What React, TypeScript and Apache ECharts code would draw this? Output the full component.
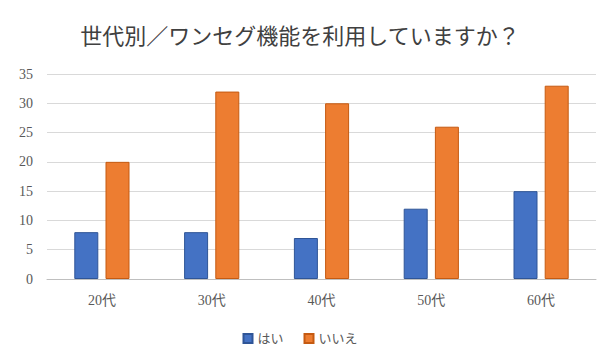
import React, { useEffect, useRef } from "react";
import * as echarts from "echarts";

const categories = ["20代", "30代", "40代", "50代", "60代"];
const seriesNames = ["はい", "いいえ"];
const yesValues = [8, 8, 7, 12, 15];
const noValues = [20, 32, 30, 26, 33];
const titleText = "世代別／ワンセグ機能を利用していますか？";

const FONT = "'Liberation Serif', 'Noto Sans CJK JP', serif";

export default function App() {
  const ref = useRef<HTMLDivElement>(null);
  useEffect(() => {
    if (!ref.current) return;
    const chart = echarts.init(ref.current, null, { renderer: "svg" });
    chart.setOption({
      animation: false,
      backgroundColor: "#ffffff",
      textStyle: { fontFamily: FONT },
      title: {
        text: titleText,
        left: "center",
        top: 20,
        textStyle: {
          fontFamily: FONT,
          fontSize: 22,
          fontWeight: "normal",
          color: "#404040",
        },
      },
      legend: {
        data: seriesNames,
        bottom: 12,
        left: "center",
        itemWidth: 9,
        itemHeight: 9,
        itemGap: 20,
        icon: "rect",
        textStyle: { fontFamily: FONT, fontSize: 13, color: "#595959" },
      },
      grid: { left: 47, right: 4, top: 74, bottom: 83, containLabel: false },
      xAxis: {
        type: "category",
        data: categories,
        axisLine: { lineStyle: { color: "#bfbfbf" } },
        axisTick: { show: false },
        axisLabel: {
          fontFamily: FONT,
          fontSize: 14,
          color: "#595959",
          margin: 14,
        },
      },
      yAxis: {
        type: "value",
        min: 0,
        max: 35,
        interval: 5,
        axisLine: { show: false },
        axisTick: { show: false },
        splitLine: { lineStyle: { color: "#d9d9d9" } },
        axisLabel: {
          fontFamily: FONT,
          fontSize: 14,
          color: "#595959",
          margin: 14,
        },
      },
      series: [
        {
          name: seriesNames[0],
          type: "bar",
          data: yesValues,
          barWidth: 24,
          barGap: "30%",
          itemStyle: { color: "#4472C4", borderColor: "#2F5597", borderWidth: 1 },
        },
        {
          name: seriesNames[1],
          type: "bar",
          data: noValues,
          barWidth: 24,
          barGap: "30%",
          itemStyle: { color: "#ED7D31", borderColor: "#C55A11", borderWidth: 1 },
        },
      ],
    });
    return () => chart.dispose();
  }, []);
  return <div ref={ref} style={{ width: 600, height: 362, position: "absolute", left: 0, top: 0 }} />;
}
